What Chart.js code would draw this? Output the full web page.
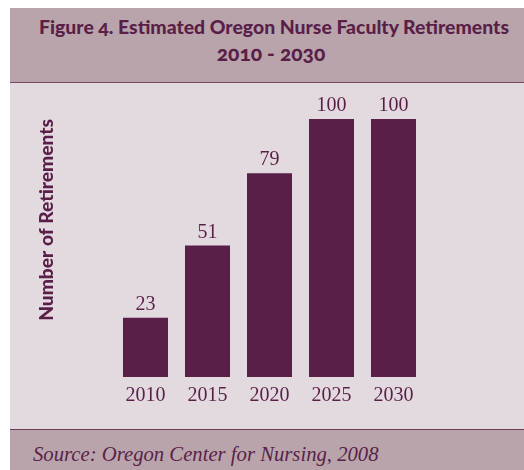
<!DOCTYPE html>
<html>
<head>
<meta charset="utf-8">
<script src="https://cdn.jsdelivr.net/npm/chart.js@4"></script>
<style>
  html, body { margin: 0; padding: 0; background: #ffffff; width: 524px; height: 470px; overflow: hidden; }
  #header { position: absolute; left: 10px; top: 8px; width: 514px; height: 74px; background: #b9a4ac; border-bottom: 1px solid #7a4568; color: #5a1f48; text-align: center; font-family: Lato, "Open Sans", sans-serif; font-weight: 900; font-variant-numeric: oldstyle-nums; }
  #t1 { position: absolute; left: 0; width: 100%; top: 7px; font-size: 19.4px; line-height: 24px; padding-left: 14px; box-sizing: border-box; }
  #t2 { position: absolute; left: 0; width: 100%; top: 33px; font-size: 21px; line-height: 24px; padding-left: 8px; box-sizing: border-box; }
  #plot { position: absolute; left: 10px; top: 83px; width: 514px; height: 346px; background: #e3dadf; }
  #footer { position: absolute; left: 10px; top: 429px; width: 514px; height: 41px; background: #b9a4ac; border-top: 1px solid #6e3a5e; }
  #src { position: absolute; left: 23px; top: 12px; font-family: "Liberation Serif", serif; font-style: italic; font-size: 20.7px; line-height: 24px; color: #5a1f48; }
</style>
</head>
<body>
<div id="header"><div id="t1">Figure 4. Estimated Oregon Nurse Faculty Retirements</div><div id="t2">2010 - 2030</div></div>
<div id="plot"><canvas id="c" width="514" height="346"></canvas></div>
<div id="footer"><div id="src">Source: Oregon Center for Nursing, 2008</div></div>
<script>
const categories = ["2010", "2015", "2020", "2025", "2030"];
const retirements = [23, 51, 79, 100, 100];
const yAxisTitle = "Number of Retirements";

const plum = "#5a1f48";

const valueLabels = {
  id: "valueLabels",
  afterDatasetsDraw(chart) {
    const ctx = chart.ctx;
    const meta = chart.getDatasetMeta(0);
    ctx.save();
    ctx.fillStyle = plum;
    ctx.font = "20px 'Liberation Serif', serif";
    ctx.textAlign = "center";
    ctx.textBaseline = "middle";
    meta.data.forEach((bar, i) => {
      ctx.fillText(String(chart.data.datasets[0].data[i]), bar.x, bar.y - 13);
    });
    ctx.restore();
  }
};

new Chart(document.getElementById("c"), {
  type: "bar",
  data: {
    labels: categories,
    datasets: [{
      data: retirements,
      backgroundColor: plum,
      borderWidth: 0,
      categoryPercentage: 1.0,
      barPercentage: 0.726
    }]
  },
  options: {
    responsive: false,
    animation: false,
    devicePixelRatio: 1,
    layout: { padding: { left: 20, right: 99.5, top: 36, bottom: 0 } },
    plugins: { legend: { display: false }, tooltip: { enabled: false } },
    scales: {
      x: {
        grid: { display: false, drawTicks: false },
        border: { display: false },
        ticks: { color: plum, font: { family: "'Liberation Serif', serif", size: 20 }, padding: 7 },
        afterFit(scale) { scale.height = 52; }
      },
      y: {
        min: 0, max: 100,
        grid: { display: false, drawTicks: false },
        border: { display: false },
        ticks: { display: false },
        title: { display: true, text: yAxisTitle, align: "end", color: plum, font: { family: "Lato, 'Open Sans', sans-serif", size: 19.2, weight: "900" }, padding: { top: 5, bottom: 0 } },
        afterFit(scale) { scale.width = 84.5; }
      }
    }
  },
  plugins: [valueLabels]
});
</script>
</body>
</html>
